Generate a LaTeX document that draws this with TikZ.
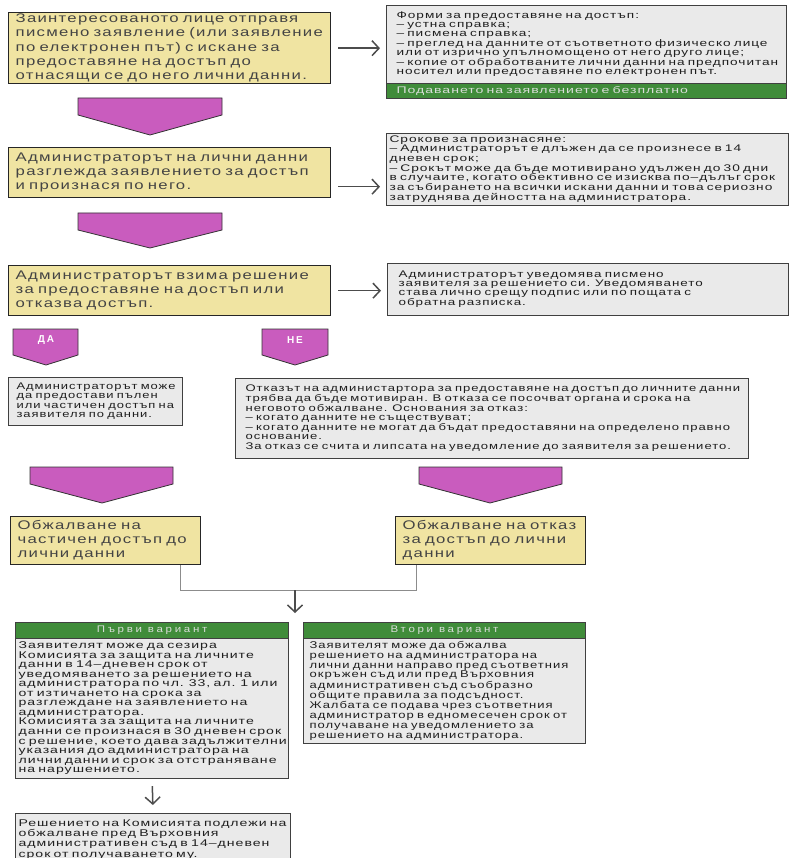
\documentclass[tikz,border=0pt]{standalone}
\usepackage{fontspec}
\setmainfont{Liberation Sans}[FakeStretch=1.34,LetterSpace=10]
\usetikzlibrary{arrows.meta}
\pgfdeclarelayer{edgelayer}
\pgfdeclarelayer{nodelayer}
\pgfsetlayers{edgelayer,nodelayer,main}
\definecolor{khaki}{HTML}{F0E4A2}
\definecolor{lightgrey}{HTML}{EAEAEA}
\definecolor{leafgreen}{HTML}{408C3A}
\definecolor{orchid}{HTML}{C95CBE}
\definecolor{ink}{HTML}{444444}
\newcommand\bigtxt{\fontsize{12.5}{14.2}\selectfont}
\newcommand\greyfont[3]{\fontspec{Liberation Sans}[FakeStretch=#1,LetterSpace=10]\fontsize{#2}{#3}\selectfont}
\newcommand\headfont{\fontspec{Liberation Sans}[FakeStretch=1.2,LetterSpace=28]\fontsize{9.6}{9.6}\selectfont}
% lines of a box are set in one column, so that they never wrap
\newcommand\rows[1]{\begin{tabular}{@{}l@{}}#1\end{tabular}}
\tikzstyle{none}=[inner sep=0pt]
\tikzstyle{yellowbox}=[anchor=north west, fill=khaki, draw=black!85, line width=1.4pt, align=left, inner xsep=7pt, inner ysep=0pt, text=ink, font=\bigtxt]
\tikzstyle{greybox}=[anchor=north west, fill=lightgrey, draw=black!75, line width=1.2pt, align=left, inner xsep=9pt, inner ysep=0pt, text=black!88]
\tikzstyle{greenbar}=[anchor=north west, fill=leafgreen, draw=black!75, line width=1.2pt, inner ysep=0pt, text=green!12!black!15!white, font=\headfont]
\tikzstyle{chevron}=[fill=orchid, draw=black!80, line width=0.8pt]
\tikzstyle{yesno}=[inner sep=0pt, text=white, font={\fontspec{Liberation Sans}[LetterSpace=18]\fontsize{10}{10}\selectfont\bfseries}]
\tikzstyle{edge}=[draw=black!70, line width=1.5pt, -{Straight Barb[length=7pt,width=15pt]}]
\tikzstyle{mergeline}=[draw=black!45, line width=1pt]

\begin{document}
\begin{tikzpicture}[x=1pt,y=-1pt]
			\useasboundingbox (0,0) rectangle (789,858);
			\clip (0,0) rectangle (789,858);
			\begin{pgfonlayer}{nodelayer}
			\node [style=yellowbox, minimum height=71pt, text width=308pt] (1) at (8,12) {\rows{Заинтересованото лице отправя\\писмено заявление (или заявление\\по електронен път) с искане за\\предоставяне на достъп до\\отнасящи се до него лични данни.}};
			\node [style=greybox, minimum height=78pt, text width=380pt, inner xsep=10pt, font={\greyfont{1.42}{9.6}{9.1}}] (2) at (386,5) {\rows{Форми за предоставяне на достъп:\\– устна справка;\\– писмена справка;\\– преглед на данните от съответното физическо лице\\или от изрично упълномощено от него друго лице;\\– копие от обработваните лични данни на предпочитан\\носител или предоставяне по електронен път.}};
			\node [style=greenbar, minimum height=15pt, text width=380pt, align=left, inner xsep=10pt, font={\greyfont{1.47}{9.6}{9.6}}] (3) at (386,83) {Подаването на заявлението е безплатно};
			\node [style=yellowbox, minimum height=50pt, text width=308pt] (4) at (8,147) {\rows{Администраторът на лични данни\\разглежда заявлението за достъп\\и произнася по него.}};
			\node [style=greybox, minimum height=72pt, text width=396pt, inner xsep=3pt, font={\greyfont{1.43}{9.6}{9.4}}] (5) at (386,133) {\rows{Срокове за произнасяне:\\– Администраторът е длъжен да се произнесе в 14\\дневен срок;\\– Срокът може да бъде мотивирано удължен до 30 дни\\в случаите, когато обективно се изисква по–дълъг срок\\за събирането на всички искани данни и това сериозно\\затруднява дейността на администратора.}};
			\node [style=yellowbox, minimum height=50pt, text width=308pt] (6) at (8,265) {\rows{Администраторът взима решение\\за предоставяне на достъп или\\отказва достъп.}};
			\node [style=greybox, minimum height=52pt, text width=379pt, inner xsep=11pt, font={\greyfont{1.40}{9.6}{9.4}}] (7) at (387,263) {\rows{Администраторът уведомява писмено\\заявителя за решението си. Уведомяването\\става лично срещу подпис или по пощата с\\обратна разписка.}};
			\node [style=yesno] (8) at (46,340) {ДА};
			\node [style=yesno] (9) at (295,340) {НЕ};
			\node [style=greybox, minimum height=48pt, text width=158pt, inner xsep=8pt, font={\greyfont{1.35}{9.6}{9.4}}] (10) at (8,377) {\rows{Администраторът може\\да предостави пълен\\или частичен достъп на\\заявителя по данни.}};
			\node [style=greybox, minimum height=80pt, text width=493pt, inner xsep=10pt, font={\greyfont{1.36}{9.6}{9.4}}] (11) at (235,378) {\rows{Отказът на администартора за предоставяне на достъп до личните данни\\трябва да бъде мотивиран. В отказа се посочват органа и срока на\\неговото обжалване. Основания за отказ:\\– когато данните не съществуват;\\– когато данните не могат да бъдат предоставяни на определено правно\\основание.\\За отказ се счита и липсата на уведомление до заявителя за решението.}};
			\node [style=yellowbox, minimum height=48pt, text width=176pt] (12) at (10,516) {\rows{Обжалване на\\частичен достъп до\\лични данни}};
			\node [style=yellowbox, minimum height=48pt, text width=176pt] (13) at (395,516) {\rows{Обжалване на отказ\\за достъп до лични\\данни}};
			\node [style=greenbar, minimum height=16pt, minimum width=273pt] (14) at (15,622) {Първи вариант};
			\node [style=greybox, minimum height=140pt, text width=267pt, inner xsep=3pt, font={\greyfont{1.44}{9.8}{9.5}}] (15) at (15,638) {\rows{Заявителят може да сезира\\Комисията за защита на личните\\данни в 14–дневен срок от\\уведомяването за решението на\\администратора по чл. 33, ал. 1 или\\от изтичането на срока за\\разглеждане на заявлението на\\администратора.\\Комисията за защита на личните\\данни се произнася в 30 дневен срок\\с решение, което дава задължителни\\указания до администратора на\\лични данни и срок за отстраняване\\на нарушението.}};
			\node [style=greenbar, minimum height=16pt, minimum width=282pt] (16) at (303,622) {Втори вариант};
			\node [style=greybox, minimum height=105pt, text width=270pt, inner xsep=6pt, font={\greyfont{1.33}{9.8}{9.9}}] (17) at (303,638) {\rows{Заявителят може да обжалва\\решението на администратора на\\лични данни направо пред съответния\\окръжен съд или пред Върховния\\административен съд съобразно\\общите правила за подсъдност.\\Жалбата се подава чрез съответния\\администратор в едномесечен срок от\\получаване на уведомлението за\\решението на администратора.}};
			\node [style=greybox, minimum height=56pt, text width=269pt, inner xsep=3pt, font={\greyfont{1.44}{9.8}{10.3}}] (18) at (15,813) {\rows{Решението на Комисията подлежи на\\обжалване пред Върховния\\административен съд в 14–дневен\\срок от получаването му.\\[4pt]}};
			\coordinate (20) at (180,590);
			\coordinate (21) at (416,590);
			\coordinate (22) at (295,590);
			\coordinate (23) at (295,613);
			\end{pgfonlayer}
			\begin{pgfonlayer}{edgelayer}
			\draw [style=chevron] (78,98) -- (222,98) -- (222,115) -- (150,135) -- (78,115) -- cycle;
			\draw [style=chevron] (78,213) -- (222,213) -- (222,230) -- (150,248) -- (78,230) -- cycle;
			\draw [style=chevron] (13,329) -- (78,329) -- (78,355) -- (46,365) -- (13,355) -- cycle;
			\draw [style=chevron] (262,329) -- (328,329) -- (328,355) -- (295,365) -- (262,355) -- cycle;
			\draw [style=chevron] (30,467) -- (173,467) -- (173,484) -- (102,503) -- (30,484) -- cycle;
			\draw [style=chevron] (419,467) -- (562,467) -- (562,484) -- (490,503) -- (419,484) -- cycle;
			\draw [style=edge, shorten <=7pt, shorten >=6pt] (1.east) -- (1.east -| 2.west);
			\draw [style=edge, shorten <=7pt, shorten >=6pt] ([yshift=-14pt]4.east) -- ([yshift=-14pt]4.east -| 5.west);
			\draw [style=edge, shorten <=7pt, shorten >=6pt] (6.east) -- (6.east -| 7.west);
			\draw [style=mergeline] (12.south -| 20) -- (20) -- (21) -- (13.south -| 21);
			\draw [style=edge] (22) -- (23);
			\draw [style=edge, shorten <=7pt, shorten >=8pt] (15.south) -- (18.north);
			\end{pgfonlayer}
\end{tikzpicture}
\end{document}
